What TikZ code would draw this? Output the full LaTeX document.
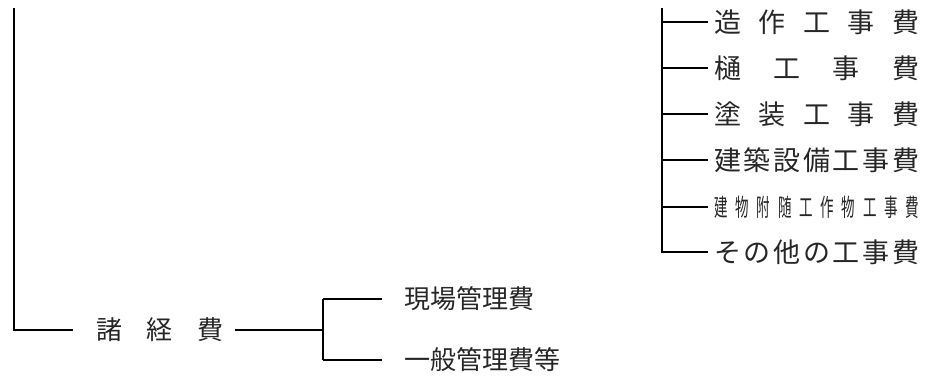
\documentclass[tikz,border=0pt]{standalone}
\usepackage{fontspec}
\newfontfamily\jp{Noto Sans CJK JP}
\newcommand\spreadbox[2]{\makebox[#1][s]{#2}}
\newcommand\nc[1]{\scalebox{0.5}[0.9]{#1}}
\begin{document}
\begin{tikzpicture}[x=1pt,y=-1pt,
  wire/.style={line width=2.8pt, line cap=butt},
  lbl/.style={inner sep=0pt, anchor=west, text=black!85, font=\jp\fontsize{26}{26}\selectfont},
  lblr/.style={lbl, font=\jp\fontsize{27}{27}\selectfont}]
\useasboundingbox (0,0) rectangle (928,376);
% left tree
\coordinate (ltop) at (14,8);
\coordinate (lcorner) at (14,330);
\node[lbl] (shokeihi) at (96,330) {\spreadbox{127pt}{諸\hfill 経\hfill 費}};
\coordinate (junc) at (323,330);
\node[lbl] (genba) at (404,299) {\spreadbox{137pt}{現場管理費}};
\node[lbl] (ippan) at (404,360) {\spreadbox{164pt}{一般管理費等}};
\draw[wire] (ltop) -- (lcorner) -- ([xshift=-23pt]shokeihi.west);
\draw[wire] ([xshift=12pt]shokeihi.east) -- (junc);
\draw[wire] (junc |- genba) -- ([xshift=-22pt]genba.west);
\draw[wire] (junc |- ippan) -- ([xshift=-22pt]ippan.west);
\draw[wire] (junc |- genba) -- (junc |- ippan);
% right tree
\coordinate (rtop) at (662,8);
\node[lblr] (r1) at (714,22) {\spreadbox{205pt}{造\hfill 作\hfill 工\hfill 事\hfill 費}};
\node[lblr] (r2) at (714,68) {\spreadbox{205pt}{樋\hfill 工\hfill 事\hfill 費}};
\node[lblr] (r3) at (714,114) {\spreadbox{205pt}{塗\hfill 装\hfill 工\hfill 事\hfill 費}};
\node[lblr] (r4) at (714,160) {\spreadbox{205pt}{建\hfill 築\hfill 設\hfill 備\hfill 工\hfill 事\hfill 費}};
\node[lblr] (r5) at (714,207) {\spreadbox{205pt}{\nc{建}\hfill\nc{物}\hfill\nc{附}\hfill\nc{随}\hfill\nc{工}\hfill\nc{作}\hfill\nc{物}\hfill\nc{工}\hfill\nc{事}\hfill\nc{費}}};
\node[lblr] (r6) at (714,252) {\spreadbox{205pt}{そ\hfill の\hfill 他\hfill の\hfill 工\hfill 事\hfill 費}};
\coordinate (rbot) at (662,252);
\draw[wire] (rtop) -- (rbot) -- ([xshift=-6pt]r6.west);
\foreach \n in {r1,r2,r3,r4,r5}
  \draw[wire] (rtop |- \n) -- ([xshift=-6pt]\n.west);
\end{tikzpicture}
\end{document}
